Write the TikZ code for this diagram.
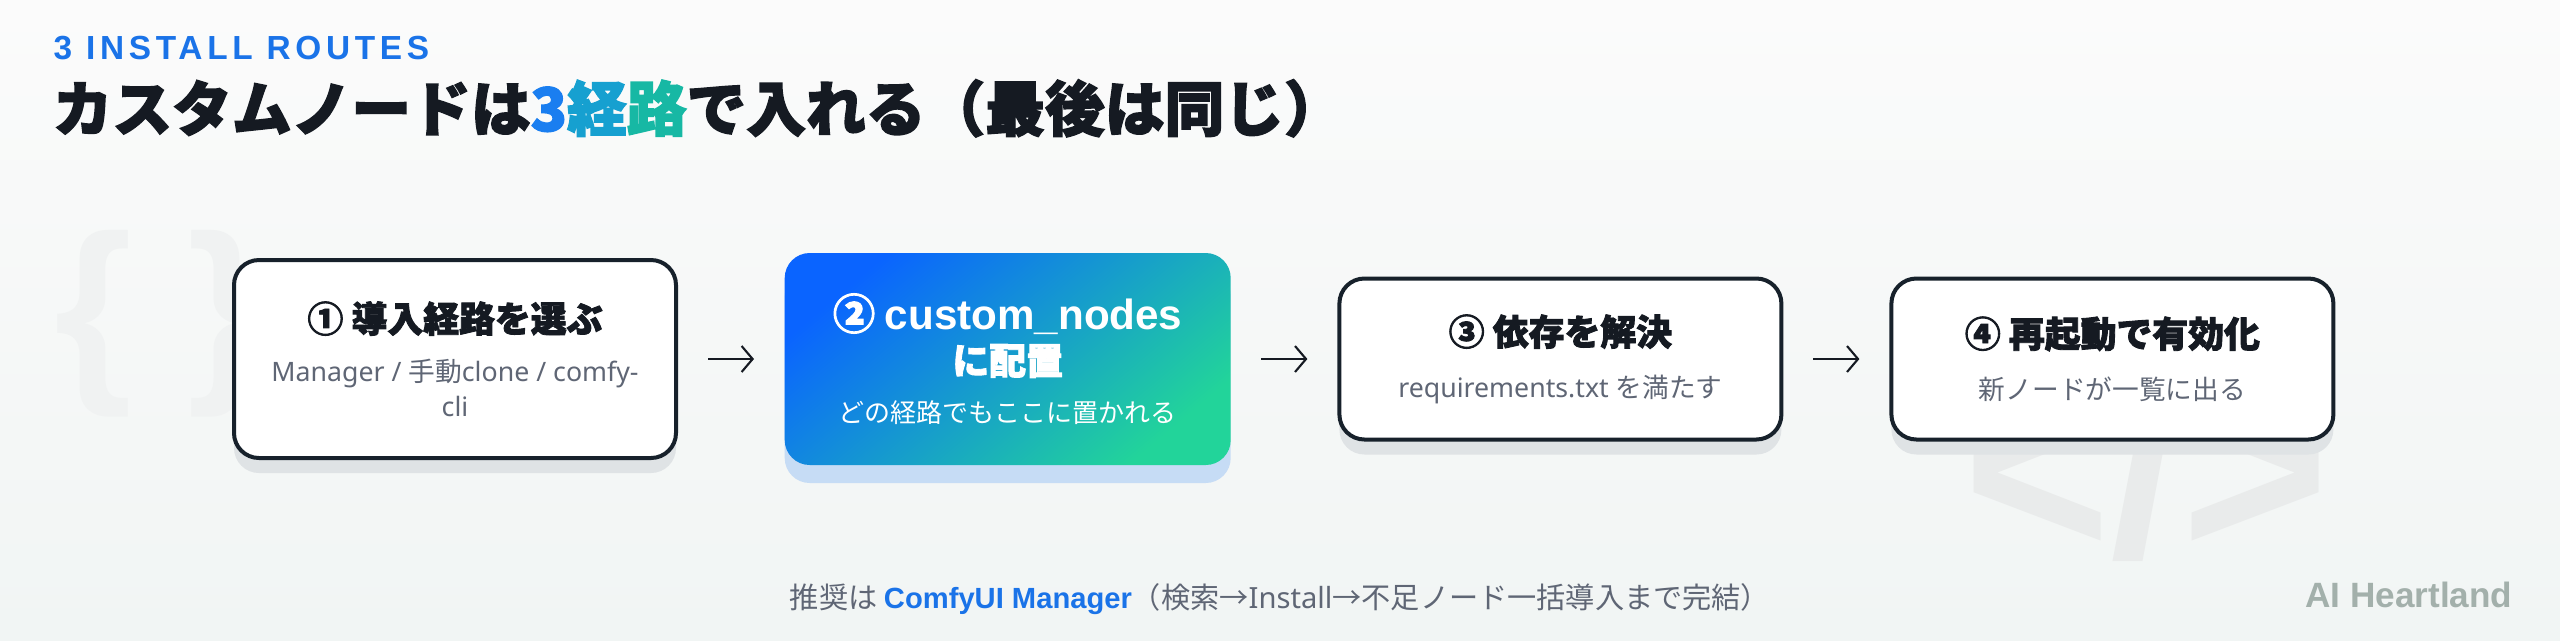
\documentclass[tikz,border=0pt]{standalone}
\usepackage{fontspec}
\setmainfont{Liberation Sans}
\newfontfamily\latn{Noto Sans}
\newfontfamily\jp{Noto Sans CJK JP}[BoldFeatures={FakeBold=2.4}]
\newfontfamily\tagfont{Liberation Sans}[LetterSpace=14]
\usetikzlibrary{positioning,shadows,arrows.meta}

\definecolor{bgtop}{HTML}{FBFBFB}
\definecolor{bgbot}{HTML}{F1F5F4}
\definecolor{ink}{HTML}{151A22}
\definecolor{navy}{HTML}{17212B}
\definecolor{subgray}{HTML}{5F6675}
\definecolor{tagblue}{HTML}{1A73E8}
\definecolor{gradA}{HTML}{0A64FF}
\definecolor{gradB}{HTML}{22D49A}
\definecolor{shadowgray}{HTML}{DFE3E5}
\definecolor{shadowblue}{HTML}{C6DCF5}
\definecolor{ghostgray}{HTML}{F0F2F2}
\definecolor{markgray}{HTML}{A3B0AB}
\definecolor{hueA}{HTML}{1A7EF0}
\definecolor{hueB}{HTML}{16A0D0}
\definecolor{hueC}{HTML}{17B8A4}

\tikzset{
	card/.style={rounded corners=0.25cm, draw=navy, line width=0.04cm, fill=white,
		minimum width=4.42cm, inner sep=0pt, align=center, text=subgray,
		font=\latn\fontsize{7.6pt}{9.96pt}\selectfont,
		drop shadow={shadow xshift=0cm, shadow yshift=-0.15cm, fill=shadowgray, opacity=1}},
	hotcard/.style={rounded corners=0.25cm, left color=gradA, right color=gradB, shading angle=40,
		minimum width=4.46cm, minimum height=2.12cm, inner sep=0pt, align=center, text=white,
		font=\jp\fontsize{7.4pt}{9.96pt}\selectfont,
		drop shadow={shadow xshift=0cm, shadow yshift=-0.18cm, fill=shadowblue, opacity=1}},
	flow/.style={-{Straight Barb[length=1.1mm,width=2.6mm]}, line width=0.6pt, draw=ink,
		shorten <=0.3cm, shorten >=0.3cm},
	ghost/.style={text=ghostgray, inner sep=0pt}
}
\newcommand{\stephead}[1]{{\jp\bfseries\color{ink}\fontsize{10.2pt}{12pt}\selectfont #1}}

\begin{document}
\begin{tikzpicture}
	\fill[top color=bgtop, bottom color=bgbot] (0,0) rectangle (25.6,-6.4);
	\useasboundingbox (0,0) rectangle (25.6,-6.4);

	\node[ghost, font=\bfseries\fontsize{57pt}{60pt}\selectfont] (braces) at (1.6,-3.24) {\{ \}};
	\node[ghost, font=\bfseries\fontsize{72pt}{80pt}\selectfont, text=ghostgray!97!black, anchor=base] (tagmark) at (21.46,-5.56) {</>};

	\node[font=\tagfont\bfseries\fontsize{9.5pt}{11pt}\selectfont, text=tagblue, anchor=base west, inner sep=0pt] (kicker) at (0.53,-0.59) {3 INSTALL ROUTES};
	\node[font=\jp\bfseries\fontsize{17pt}{20pt}\selectfont, text=ink, anchor=base west, inner sep=0pt] (headline) at (0.52,-1.31) {カスタムノードは{\color{hueA}3}{\color{hueB}経}{\color{hueC}路}で入れる（最後は同じ）};

	\node[card, minimum height=1.98cm] (box1) at (4.55,-3.59) {\stephead{① 導入経路を選ぶ}\\[4pt]Manager / {\jp 手動}clone / comfy-\\cli};
	\node[hotcard, anchor=west] (box2) at ([xshift=1.06cm]box1.east) {{\bfseries\fontsize{12pt}{14pt}\selectfont ② {\rmfamily custom\_nodes}}\\[1.7pt]{\bfseries\fontsize{10.5pt}{12pt}\selectfont に配置}\\[3.7pt]どの経路でもここに置かれる};
	\node[card, minimum height=1.61cm, anchor=west] (box3) at ([xshift=1.06cm]box2.east) {\stephead{③ 依存を解決}\\[4.8pt]requirements.txt {\jp を満たす}};
	\node[card, minimum height=1.61cm, anchor=west] (box4) at ([xshift=1.06cm]box3.east) {\stephead{④ 再起動で有効化}\\[4.8pt]{\jp 新ノードが一覧に出る}};

	\draw[flow] (box1) -- (box2);
	\draw[flow] (box2) -- (box3);
	\draw[flow] (box3) -- (box4);

	\node[font=\jp\fontsize{8.3pt}{10pt}\selectfont, text=subgray, anchor=base] (note) at (12.8,-6.08) {推奨は {\rmfamily\bfseries\color{tagblue}ComfyUI Manager}（検索→{\latn Install}→不足ノード一括導入まで完結）};
	\node[font=\bfseries\fontsize{10pt}{11pt}\selectfont, text=markgray, anchor=base east, inner sep=0pt] (brand) at (25.13,-6.07) {AI Heartland};
\end{tikzpicture}
\end{document}
